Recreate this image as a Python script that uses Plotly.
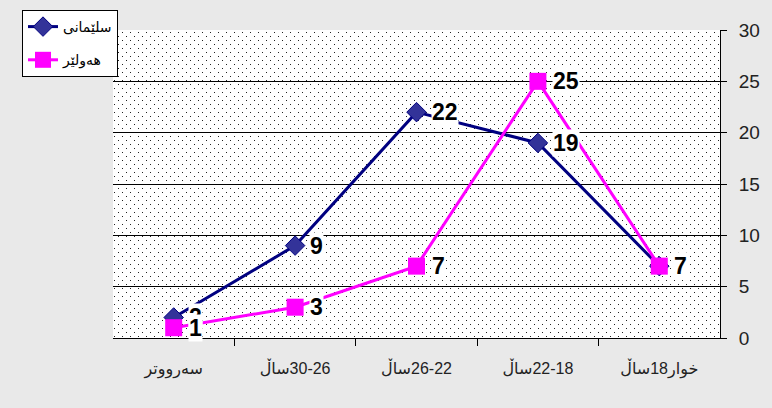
import base64
import plotly.graph_objects as go

# ---- data ----
categories = ["سەرووتر", "ساڵ\u200e30-26", "ساڵ\u200e26-22", "ساڵ\u200e22-18", "خوار18ساڵ"]
series_names = ["سلێمانی", "هەولێر"]
sulaymani = [2, 9, 22, 19, 7]
hawler = [1, 3, 7, 25, 7]
y_ticks = [0, 5, 10, 15, 20, 25, 30]
y_range = [0, 30]

# ---- layout geometry ----
W, H = 772, 408
ML, MR, MT, MB = 113, 52, 30, 70
PW, PH = W - ML - MR, H - MT - MB

# dotted plot-area background (decorative), as an inline SVG image
svg = (
    f'<svg xmlns="http://www.w3.org/2000/svg" width="{PW}" height="{PH}">'
    '<defs><pattern id="p" width="8" height="8" patternUnits="userSpaceOnUse">'
    '<rect width="8" height="8" fill="white"/>'
    '<rect x="1" y="2" width="1" height="1" fill="#222"/>'
    '<rect x="5" y="6" width="1" height="1" fill="#222"/>'
    '</pattern></defs>'
    f'<rect width="{PW}" height="{PH}" fill="url(#p)"/></svg>'
)
svg_uri = "data:image/svg+xml;base64," + base64.b64encode(svg.encode()).decode()

x_idx = list(range(len(categories)))

fig = go.Figure()
fig.add_trace(go.Scatter(
    x=x_idx, y=sulaymani, name=series_names[0], mode="lines+markers",
    line=dict(color="#000080", width=3),
    marker=dict(symbol="diamond", size=15, color="#333399", line=dict(color="#000080", width=1)),
    legendgroup="a", hoverinfo="skip",
))
fig.add_trace(go.Scatter(
    x=x_idx, y=hawler, name=series_names[1], mode="lines+markers",
    line=dict(color="#FF00FF", width=3),
    marker=dict(symbol="square", size=17, color="#FF00FF"),
    legendgroup="b", hoverinfo="skip",
))

annotations = []
for vals in (sulaymani, hawler):
    for i, v in enumerate(vals):
        annotations.append(dict(
            x=i, y=v, xref="x", yref="y", text=str(v), showarrow=False,
            xanchor="left", yanchor="middle", xshift=14,
            font=dict(family="Arial, Liberation Sans", size=23, color="black", weight="bold"),
            bgcolor="white", borderpad=0,
        ))

fig.update_layout(
    width=W, height=H,
    margin=dict(l=ML, r=MR, t=MT, b=MB, autoexpand=False),
    paper_bgcolor="#e9e9e9",
    plot_bgcolor="white",
    font=dict(family="Arial, Liberation Sans, DejaVu Sans", color="#111"),
    images=[dict(source=svg_uri, xref="paper", yref="paper", x=0, y=1,
                 sizex=1, sizey=1, xanchor="left", yanchor="top",
                 sizing="stretch", layer="below")],
    showlegend=True,
    legend=dict(
        x=(22 - ML) / PW, y=(PH + MT - 10) / PH, xanchor="left", yanchor="top",
        xref="paper", yref="paper",
        bgcolor="white", bordercolor="black", borderwidth=1,
        font=dict(size=14, family="DejaVu Sans", color="black"),
        tracegroupgap=12, itemwidth=30,
    ),
    annotations=annotations,
)

fig.update_xaxes(
    range=[-0.5, len(categories) - 0.5],
    tickmode="array", tickvals=x_idx, ticktext=categories,
    ticks="", showgrid=False, zeroline=False,
    showline=True, linecolor="black", linewidth=1,
    tickfont=dict(size=16, family="Arial, Liberation Sans, DejaVu Sans", color="#222"),
    ticklabelstandoff=16,
    minor=dict(tickmode="array", tickvals=[i + 0.5 for i in x_idx[:-1]],
               ticks="outside", ticklen=7, tickcolor="black", showgrid=False),
)
fig.update_yaxes(
    range=y_range, side="right",
    tickmode="array", tickvals=y_ticks,
    ticks="outside", ticklen=6, tickcolor="black",
    showgrid=True, gridcolor="black", gridwidth=1,
    zeroline=False, showline=True, linecolor="black", linewidth=1,
    tickfont=dict(size=19, color="#222"),
    ticklabelstandoff=8,
)

fig.write_html(
    "out.html",
    config={"displayModeBar": False},
    post_script="document.body.style.margin='0';document.body.style.background='#e9e9e9';",
)
